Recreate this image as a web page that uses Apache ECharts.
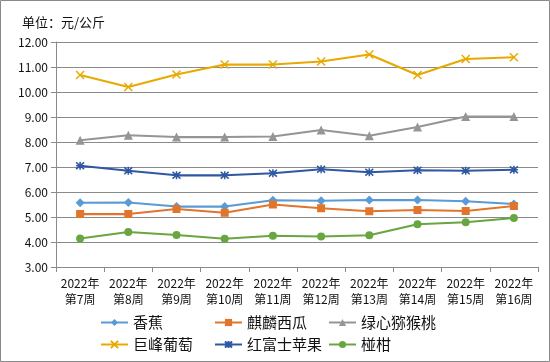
<!DOCTYPE html>
<html><head><meta charset="utf-8">
<script src="https://cdn.jsdelivr.net/npm/echarts@6/dist/echarts.min.js"></script>
<style>html,body{margin:0;padding:0;background:#fff}#c{width:550px;height:362px}</style>
</head><body><div id="c"></div>
<script>
const categories = ['2022年\n第7周','2022年\n第8周','2022年\n第9周','2022年\n第10周','2022年\n第11周','2022年\n第12周','2022年\n第13周','2022年\n第14周','2022年\n第15周','2022年\n第16周'];
const banana = [5.57, 5.58, 5.42, 5.42, 5.67, 5.65, 5.68, 5.68, 5.63, 5.52];
const watermelon = [5.12, 5.12, 5.32, 5.17, 5.50, 5.35, 5.23, 5.28, 5.24, 5.44];
const kiwi = [8.07, 8.27, 8.20, 8.20, 8.22, 8.48, 8.25, 8.60, 9.02, 9.02];
const grape = [10.68, 10.20, 10.70, 11.10, 11.10, 11.22, 11.50, 10.68, 11.32, 11.39];
const apple = [7.05, 6.85, 6.67, 6.67, 6.75, 6.91, 6.79, 6.87, 6.85, 6.89];
const mandarin = [4.14, 4.40, 4.28, 4.13, 4.25, 4.22, 4.27, 4.71, 4.79, 4.96];
const yTicks = [3, 12, 1];

const FONT = '"Noto Sans CJK SC", "Noto Sans", sans-serif';
function mk(name, data, color, symbol, size, stroke) {
  return {
    name, type: 'line', data, symbol, symbolSize: size,
    lineStyle: { color, width: 2.25 },
    itemStyle: stroke ? { color, borderColor: color, borderWidth: 1.5 } : { color },
    emphasis: { disabled: true }, animation: false
  };
}
const chart = echarts.init(document.getElementById('c'), null, { renderer: 'canvas' });
chart.setOption({
  animation: false,
  textStyle: { fontFamily: FONT },
  graphic: [{ type: 'rect', shape: { x: 0.5, y: 0.5, width: 549, height: 361 }, style: { fill: 'none', stroke: '#898989', lineWidth: 1 } }],
  title: { text: '单位：元/公斤', left: 17, top: 11, textStyle: { fontFamily: FONT, fontSize: 13, fontWeight: 'normal', color: '#111' } },
  grid: { left: 56, top: 42, right: 12, bottom: 95 },
  legend: {
    left: 100, top: 314, width: 345, padding: 0, itemWidth: 27, itemHeight: 9, itemGap: 5,
    textStyle: { fontFamily: FONT, fontSize: 15, color: '#111', width: 76, lineHeight: 17 },
    data: ['香蕉', '麒麟西瓜', '绿心猕猴桃', '巨峰葡萄', '红富士苹果', '椪柑']
  },
  xAxis: {
    type: 'category', data: categories, boundaryGap: true,
    axisLine: { lineStyle: { color: '#8a8a8a', width: 1 } },
    axisTick: { show: true, interval: 0, length: 5, lineStyle: { color: '#8a8a8a' } },
    axisLabel: { interval: 0, fontFamily: FONT, fontSize: 12, color: '#111', lineHeight: 16, margin: 8 }
  },
  yAxis: {
    type: 'value', min: yTicks[0], max: yTicks[1], interval: yTicks[2],
    axisLine: { show: true, lineStyle: { color: '#8a8a8a', width: 1 } },
    axisTick: { show: true, length: 5, lineStyle: { color: '#8a8a8a' } },
    axisLabel: { fontFamily: FONT, fontSize: 12, color: '#111', margin: 8, formatter: v => v.toFixed(2) },
    splitLine: { show: true, lineStyle: { color: '#8a8a8a', width: 1 } }
  },
  series: [
    mk('香蕉', banana, '#5b9bd5', 'diamond', 9),
    mk('麒麟西瓜', watermelon, '#e2752c', 'rect', 8),
    mk('绿心猕猴桃', kiwi, '#959595', 'triangle', 9),
    mk('巨峰葡萄', grape, '#e8a900', 'path://M0,0L10,10M10,0L0,10', 8, true),
    mk('红富士苹果', apple, '#2f58a3', 'path://M0,0L10,10M10,0L0,10M5,-1L5,11M0,5L10,5', 8, true),
    mk('椪柑', mandarin, '#6aa640', 'circle', 8)
  ]
});
</script></body></html>
